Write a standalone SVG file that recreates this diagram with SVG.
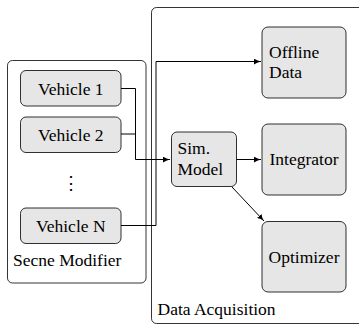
<svg xmlns="http://www.w3.org/2000/svg" width="359" height="325" viewBox="0 0 359 325" font-family="Liberation Serif, Times New Roman, serif" font-size="17.5">
<style>
.node{fill:#e6e6e6;stroke:#1a1a1a;stroke-width:0.9}
.frame{fill:none;stroke:#000;stroke-width:0.8}
.conn{fill:none;stroke:#000;stroke-width:1}
</style>
<defs>
<marker id="arr" markerUnits="userSpaceOnUse" markerWidth="8" markerHeight="6" refX="7" refY="3" orient="auto">
<path d="M0,0 Q3,2.2 7,3 Q3,3.8 0,6 Z" fill="#000"/>
</marker>
</defs>
<g id="data-acquisition">
<rect class="frame" x="151.5" y="7.5" width="260" height="316" rx="5"/>
<text x="157.5" y="315">Data Acquisition</text>
</g>
<g id="scene-modifier">
<rect class="frame" x="7.5" y="60.5" width="138.5" height="222.5" rx="5"/>
<text x="13" y="266">Secne Modifier</text>
</g>
<g id="vehicle-1">
<rect class="node" x="20.5" y="70.5" width="100.5" height="35.5" rx="5.5"/>
<text x="70.8" y="94.5" text-anchor="middle">Vehicle 1</text>
</g>
<g id="vehicle-2">
<rect class="node" x="20.5" y="117" width="100.5" height="35.5" rx="5.5"/>
<text x="70.8" y="140.5" text-anchor="middle">Vehicle 2</text>
</g>
<g id="dots">
<text x="70.5" y="189" text-anchor="middle">⋮</text>
</g>
<g id="vehicle-n">
<rect class="node" x="20.5" y="208" width="100.5" height="35.5" rx="5.5"/>
<text x="70.8" y="231.5" text-anchor="middle">Vehicle N</text>
</g>
<g id="sim-model">
<rect class="node" x="171.5" y="132" width="65" height="54.5" rx="5.5"/>
<text x="177.5" y="154">Sim.</text>
<text x="177.5" y="175">Model</text>
</g>
<g id="offline-data">
<rect class="node" x="262" y="27" width="84" height="71" rx="6"/>
<text x="269" y="57.5">Offline</text>
<text x="269" y="78">Data</text>
</g>
<g id="integrator">
<rect class="node" x="262" y="124" width="84" height="71" rx="6"/>
<text x="304" y="165" text-anchor="middle">Integrator</text>
</g>
<g id="optimizer">
<rect class="node" x="262" y="221.5" width="84" height="70.5" rx="6"/>
<text x="304" y="262.5" text-anchor="middle">Optimizer</text>
</g>
<g id="connectors">
<path class="conn" d="M121,88.5 H135.5 V159.5 H170" marker-end="url(#arr)"/>
<path class="conn" d="M121,134 H135.5"/>
<path class="conn" d="M121,225.5 H156 V61.5 H261" marker-end="url(#arr)"/>
<path class="conn" d="M236.5,159.5 H261" marker-end="url(#arr)"/>
<path class="conn" d="M232,187 L264,221" marker-end="url(#arr)"/>
</g>
</svg>
